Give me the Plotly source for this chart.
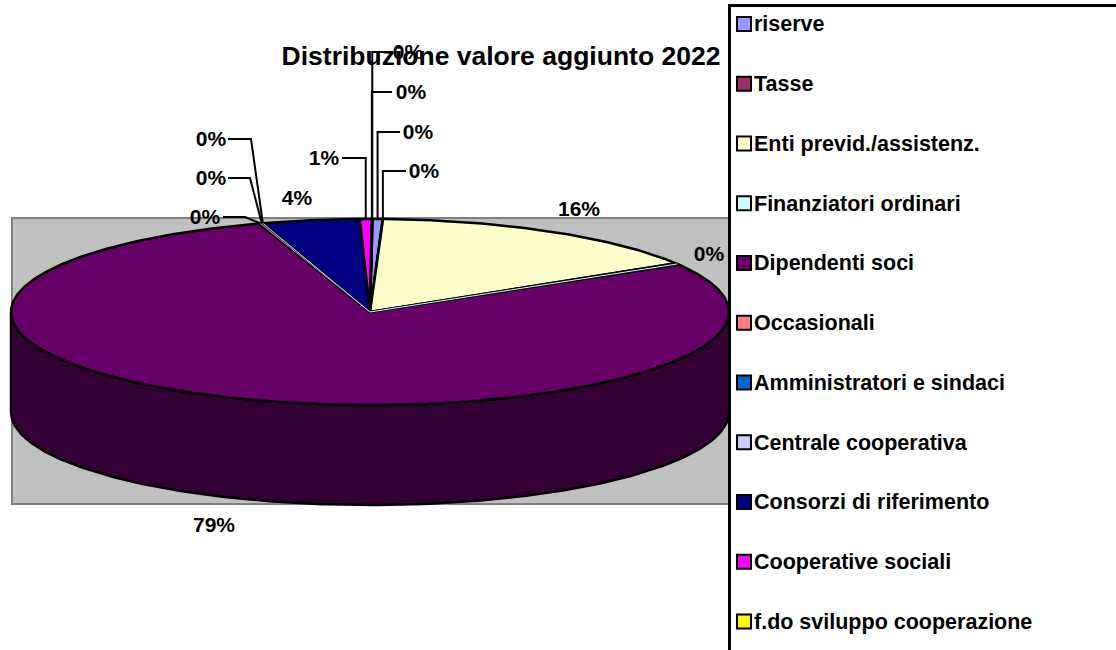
import numpy as np
import plotly.graph_objects as go

categories = ["riserve", "Tasse", "Enti previd./assistenz.", "Finanziatori ordinari",
              "Dipendenti soci", "Occasionali", "Amministratori e sindaci",
              "Centrale cooperativa", "Consorzi di riferimento", "Cooperative sociali",
              "f.do sviluppo cooperazione", ""]
values = [0.45, 0.02, 15.65, 0.25, 78.52, 0.1, 0.05, 0.05, 4.35, 0.52, 0.02, 0.02]
colors = ["#9999FF", "#993366", "#FFFFCC", "#CCFFFF", "#660066", "#FF8080",
          "#0066CC", "#CCCCFF", "#000080", "#FF00FF", "#FFFF00", "#00FFFF"]
title_text = "Distribuzione valore aggiunto 2022"

# geometry (pixels of the 1116x650 page)
CX, CY, RX, RY, DEPTH = 370.0, 312.0, 359.0, 93.0, 100.0
START_DEG = 0.4
LINE_W = 2.5
FONT = "Liberation Sans"

# per-slice label placement: (text x, text y, knee x or None = straight up, line end x or None)
label_pos = [
    (418, 132, None, 400), (424, 171, None, 406), (579, 209, None, None), (709, 254, None, None),
    (214, 525, None, None), (205, 217, 245, 223), (211, 178, 250, 228), (211, 139, 251, 228),
    (297, 198, None, None), (324, 158, None, 342), (411, 92, None, 392), (408, 52, None, 392),
]
TEXT_DY = 2

total = sum(values)
edges = np.radians(START_DEG) + np.concatenate([[0.0], np.cumsum(values)]) / total * 2 * np.pi


def ex(t):
    return CX + RX * np.sin(t)


def ey(t):
    return CY - RY * np.cos(t)


fig = go.Figure()


def darker(h):
    return "#%02X%02X%02X" % tuple(int(h[i:i + 2], 16) // 2 for i in (1, 3, 5))


# side wall: lower half of the cylinder, coloured per slice at half brightness
for i, c in enumerate(colors):
    a, b = max(edges[i], np.pi / 2), min(edges[i + 1], 3 * np.pi / 2)
    if b <= a:
        continue
    t = np.linspace(a, b, 200)
    xs = np.concatenate([ex(t), ex(t[::-1])])
    ys = np.concatenate([ey(t), ey(t[::-1]) + DEPTH])
    fig.add_trace(go.Scatter(x=xs, y=ys, mode="lines", fill="toself", fillcolor=darker(c),
                             line=dict(color="black", width=LINE_W), showlegend=False,
                             hoverinfo="skip"))

# top face
for i, c in enumerate(colors):
    n = max(3, int((edges[i + 1] - edges[i]) * 120))
    t = np.linspace(edges[i], edges[i + 1], n)
    xs = np.concatenate([[CX], ex(t), [CX]])
    ys = np.concatenate([[CY], ey(t), [CY]])
    fig.add_trace(go.Scatter(x=xs, y=ys, mode="lines", fill="toself", fillcolor=c,
                             line=dict(color="black", width=LINE_W), showlegend=False,
                             name=categories[i], hoverinfo="name"))

# re-stroke thin slices so their fill stays visible
for i, c in enumerate(colors):
    if 0.05 <= values[i] < 0.3:
        mid = (edges[i] + edges[i + 1]) / 2
        fig.add_trace(go.Scatter(x=[CX, ex(mid)], y=[CY, ey(mid)], mode="lines",
                                 line=dict(color=c, width=1), showlegend=False,
                                 hoverinfo="skip"))

# leader lines
for i, (tx, ty, knee, end) in enumerate(label_pos):
    if end is None:
        continue
    mid = (edges[i] + edges[i + 1]) / 2
    sx, sy = ex(mid), ey(mid)
    kx = sx if knee is None else knee
    fig.add_trace(go.Scatter(x=[sx, kx, end], y=[sy, ty, ty], mode="lines",
                             line=dict(color="black", width=2), showlegend=False,
                             hoverinfo="skip"))

# data labels
fig.add_trace(go.Scatter(
    x=[p[0] for p in label_pos], y=[p[1] + TEXT_DY for p in label_pos], mode="text",
    text=[f"{round(v / total * 100)}%" for v in values], textposition="middle center",
    textfont=dict(family=FONT, size=21, color="black", weight="bold"),
    showlegend=False, hoverinfo="skip"))

# legend column
LEG_X, LEG_Y0, LEG_DY, LEG_TEXT_DX = 744.0, 24.0, 59.75, 10.0
legend_names = categories[:-1]
legend_cols = colors[:-1]
leg_y = [LEG_Y0 + k * LEG_DY for k in range(len(legend_names))]
fig.add_trace(go.Scatter(
    x=[LEG_X] * len(legend_names), y=leg_y, mode="markers",
    marker=dict(symbol="square", size=14, color=legend_cols,
                line=dict(color="black", width=2)),
    text=legend_names, showlegend=False, hoverinfo="text"))
fig.add_trace(go.Scatter(
    x=[LEG_X + LEG_TEXT_DX] * len(legend_names), y=[v + TEXT_DY for v in leg_y],
    mode="text", text=legend_names, textposition="middle right",
    textfont=dict(family=FONT, size=21.5, color="black", weight="bold"),
    showlegend=False, hoverinfo="skip"))

fig.update_layout(
    width=1116, height=650, autosize=False,
    margin=dict(l=0, r=0, t=0, b=0),
    paper_bgcolor="white", plot_bgcolor="white",
    title=dict(text="<b>" + title_text + "</b>", x=501 / 1116, xanchor="center",
               y=1 - 56 / 650, yanchor="middle",
               font=dict(family=FONT, size=26.5, color="black")),
    xaxis=dict(range=[0, 1116], visible=False, fixedrange=True),
    yaxis=dict(range=[650, 0], visible=False, fixedrange=True),
    shapes=[
        dict(type="rect", xref="x", yref="y", x0=12, x1=729, y0=218, y1=504,
             fillcolor="#C0C0C0", line=dict(color="#808080", width=2), layer="below"),
        dict(type="rect", xref="x", yref="y", x0=729.5, x1=1140, y0=5.5, y1=670,
             fillcolor="rgba(0,0,0,0)", line=dict(color="black", width=3), layer="above"),
    ],
)
fig.write_html("out.html", config={"displayModeBar": False},
               post_script="document.body.style.margin='0';")
